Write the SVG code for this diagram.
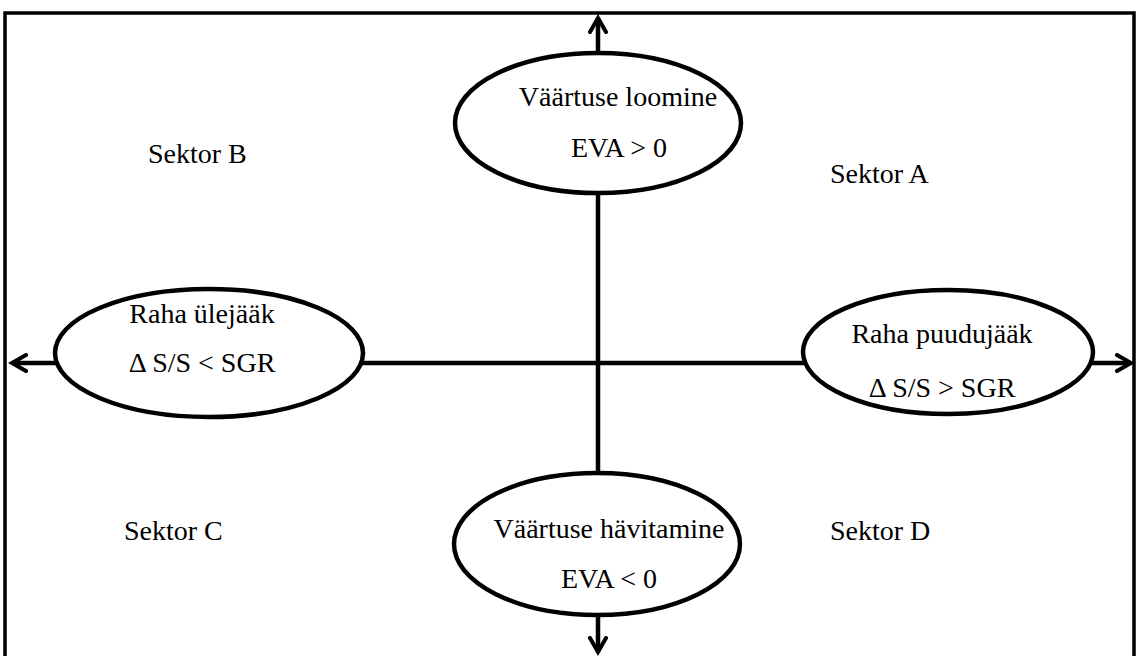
<svg xmlns="http://www.w3.org/2000/svg" width="1137" height="656" viewBox="0 0 1137 656">
<style>
.frame{fill:none;stroke:#000;stroke-width:3.5}
.axis{fill:none;stroke:#000;stroke-width:4.5}
.node{fill:#fff;stroke:#000;stroke-width:4.5}
.t{font-family:'Liberation Serif','Times New Roman','DejaVu Serif',serif;font-size:28px;fill:#000}
</style>
<defs>
<marker id="arr" viewBox="0 0 20 20" refX="16" refY="10" markerWidth="20" markerHeight="20" markerUnits="userSpaceOnUse" orient="auto">
<polyline points="2,2 16,10 2,18" fill="none" stroke="#000" stroke-width="4" stroke-linecap="round" stroke-linejoin="miter"/>
</marker>
</defs>
<rect width="1137" height="656" fill="#fff"/>
<path class="frame" d="M5,662 V13 H1134 V662"/>
<g id="connectors">
<line class="axis" x1="598" y1="363" x2="598" y2="18" marker-end="url(#arr)"/>
<line class="axis" x1="598" y1="363" x2="598" y2="652" marker-end="url(#arr)"/>
<line class="axis" x1="598" y1="363" x2="12" y2="363" marker-end="url(#arr)"/>
<line class="axis" x1="598" y1="363" x2="1131" y2="363" marker-end="url(#arr)"/>
</g>
<g id="node-top">
<ellipse class="node" cx="598" cy="123" rx="143" ry="70"/>
<text class="t" font-family="Liberation Serif, serif" x="618" y="106" text-anchor="middle">Väärtuse loomine</text>
<text class="t" font-family="Liberation Serif, serif" x="619" y="157" text-anchor="middle">EVA &gt; 0</text>
</g>
<g id="node-left">
<ellipse class="node" cx="209" cy="353" rx="154" ry="64"/>
<text class="t" font-family="Liberation Serif, serif" x="202" y="323" text-anchor="middle">Raha ülejääk</text>
<text class="t" font-family="Liberation Serif, serif" x="202" y="372" text-anchor="middle">Δ S/S &lt; SGR</text>
</g>
<g id="node-right">
<ellipse class="node" cx="948" cy="352" rx="145" ry="62"/>
<text class="t" font-family="Liberation Serif, serif" x="942" y="343" text-anchor="middle">Raha puudujääk</text>
<text class="t" font-family="Liberation Serif, serif" x="942" y="397" text-anchor="middle">Δ S/S &gt; SGR</text>
</g>
<g id="node-bottom">
<ellipse class="node" cx="597" cy="544" rx="143" ry="71"/>
<text class="t" font-family="Liberation Serif, serif" x="609" y="538" text-anchor="middle">Väärtuse hävitamine</text>
<text class="t" font-family="Liberation Serif, serif" x="609" y="588" text-anchor="middle">EVA &lt; 0</text>
</g>
<g id="sector-b"><text class="t" font-family="Liberation Serif, serif" x="148" y="163">Sektor B</text></g>
<g id="sector-a"><text class="t" font-family="Liberation Serif, serif" x="830" y="183">Sektor A</text></g>
<g id="sector-c"><text class="t" font-family="Liberation Serif, serif" x="124" y="540">Sektor C</text></g>
<g id="sector-d"><text class="t" font-family="Liberation Serif, serif" x="830" y="540">Sektor D</text></g>
</svg>
